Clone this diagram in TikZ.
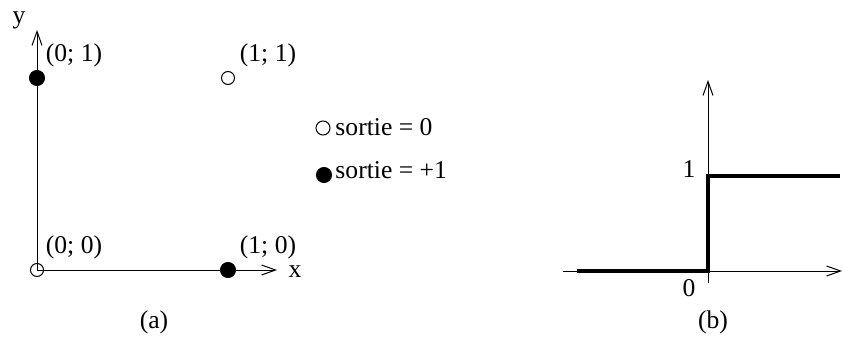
\documentclass[tikz,border=0pt]{standalone}
\usepackage{fontspec}
\setmainfont{Liberation Serif}
\usetikzlibrary{arrows.meta}
\begin{document}
\begin{tikzpicture}[x=0.5pt, y=-0.5pt, line width=0.5pt, font=\fontsize{12.8}{15}\selectfont,
    >={Straight Barb[length=7pt, width=5pt]},
    full/.style={circle, draw=black, fill=black, inner sep=0pt, minimum size=7.5pt},
    empty/.style={circle, draw=black, inner sep=0pt, minimum size=6.5pt}]
			\useasboundingbox (0,0) rectangle (843,337);
			% (a) the four inputs
			\coordinate (O) at (37,270); \coordinate (Y) at (37,30); \coordinate (X) at (277,270);
			\draw[->] (O) -- (Y); \draw[->] (O) -- (X);
			\node (ly) at (19,20) {y}; \node (lx) at (295,272) {x};
			\node[full] (p01) at (37,78) {}; \node[empty] (p11) at (228,78) {};
			\node[empty] (p00) at (37,270) {}; \node[full] (p10) at (228,270) {};
			\node (t01) at (74,55) {(0; 1)}; \node (t11) at (268,55) {(1; 1)};
			\node (t00) at (74,247) {(0; 0)}; \node (t10) at (268,247) {(1; 0)};
			\node (ta) at (154,322) {(a)};
			% legend
			\node[empty, minimum size=7pt] (k0) at (323,128) {};
			\node[full] (k1) at (324,175) {};
			\node[anchor=west, inner sep=0pt] (s0) at (335,127) {sortie = 0};
			\node[anchor=west, inner sep=0pt] (s1) at (335,170) {sortie = +1};
			% (b) the step
			\coordinate (Z) at (708,271); \coordinate (Zb) at (708,283); \coordinate (Zt) at (708,80);
			\coordinate (L) at (563,271); \coordinate (R) at (842,271);
			\draw[->] (Zb) -- (Zt); \draw[->] (L) -- (R);
			\coordinate (A) at (577,271); \coordinate (U) at (708,176); \coordinate (E) at (840,176);
			\draw[line width=2pt] (A) -- (Z) -- (U) -- (E);
			\node (t1) at (689,169) {1}; \node (t0) at (689,288) {0};
			\node (tb) at (713,322) {(b)};
\end{tikzpicture}
\end{document}
